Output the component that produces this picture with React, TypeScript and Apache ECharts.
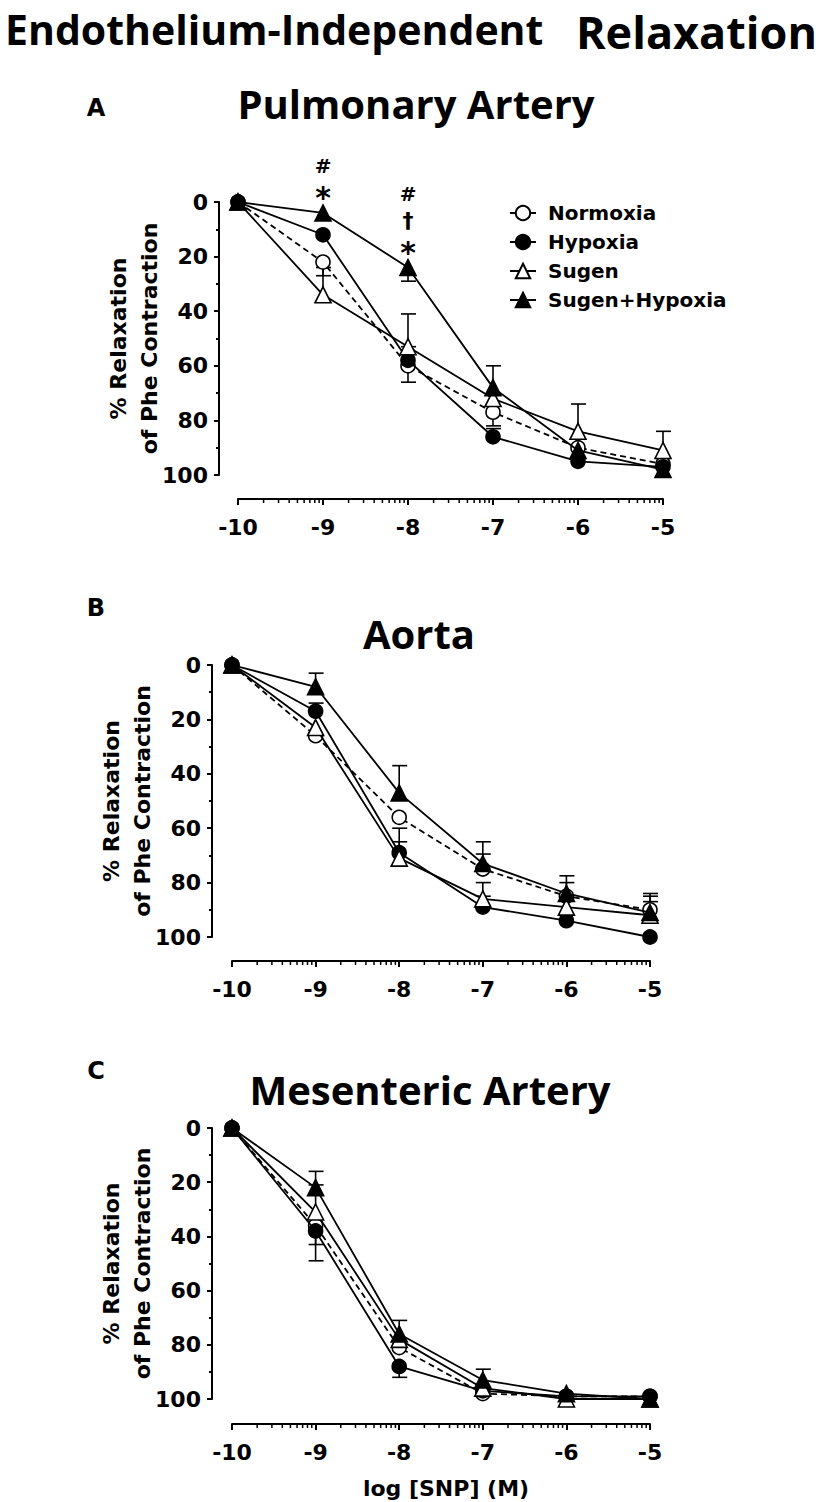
import React, { useEffect, useRef } from "react";
import * as echarts from "echarts";

// ---------- data ----------
const logSNP = [-10, -9, -8, -7, -6, -5];
const groupNames = ["Normoxia", "Hypoxia", "Sugen", "Sugen+Hypoxia"];
const yTickMin = 0;
const yTickMax = 100;
const yTickStep = 20;

// A: Pulmonary Artery (% relaxation) and one-sided SEM (+ = toward 100, - = toward 0)
const paNormoxia = [0, 22, 60, 77, 90, 96];
const paHypoxia = [0, 12, 58, 86, 95, 97];
const paSugen = [0, 34, 53, 72, 84, 91];
const paSugenHypoxia = [0, 4, 24, 68, 91, 98];
const paNormoxiaErr = [0, 5, 6, 5, 0, 0];
const paHypoxiaErr = [0, 0, -5, -3, 0, 0];
const paSugenErr = [0, -10, -12, 0, -10, -7];
const paSugenHypoxiaErr = [0, 0, 5, -8, 0, 0];
const paSignificance = [
  { x: -9, marks: ["#", "*"] },
  { x: -8, marks: ["#", "\u2020", "*"] },
];

// B: Aorta
const aoNormoxia = [0, 26, 56, 75, 85, 90];
const aoHypoxia = [0, 17, 69, 89, 94, 100];
const aoSugen = [0, 23, 71, 86, 89, 92];
const aoSugenHypoxia = [0, 8, 47, 73, 84, 91];
const aoNormoxiaErr = [0, 0, 0, -5.5, -5, -6];
const aoHypoxiaErr = [0, -3, -9, -4, 0, 0];
const aoSugenErr = [0, 0, -6, -6, 0, -5];
const aoSugenHypoxiaErr = [0, -5, -10, -8, -6.5, -6];

// C: Mesenteric Artery
const meNormoxia = [0, 36, 81, 98, 99, 99];
const meHypoxia = [0, 38, 88, 97, 99, 99];
const meSugen = [0, 31, 78, 96, 100, 100];
const meSugenHypoxia = [0, 22, 76, 93, 98, 100];
const meNormoxiaErr = [0, 13, 0, 0, 0, 0];
const meHypoxiaErr = [0, 5, 4, 0, 0, 0];
const meSugenErr = [0, -10, 0, 0, 0, 0];
const meSugenHypoxiaErr = [0, -6, -5, -4, 0, 0];

// ---------- layout / style ----------
const AXIS_FONT = "DejaVu Sans";
const TITLE_FONT = "Open Sans";

const panels = [
  {
    letter: "A",
    title: "Pulmonary Artery",
    grid: { left: 238, top: 202, width: 425, height: 273 },
    yOffset: 19,
    xOffset: 24,
    letterPos: [96, 108],
    titlePos: [416, 103],
    namePos: [118, 149],
    values: [paNormoxia, paHypoxia, paSugen, paSugenHypoxia],
    errors: [paNormoxiaErr, paHypoxiaErr, paSugenErr, paSugenHypoxiaErr],
  },
  {
    letter: "B",
    title: "Aorta",
    grid: { left: 232, top: 665, width: 418, height: 272 },
    yOffset: 20,
    xOffset: 24,
    letterPos: [96, 608],
    titlePos: [419, 633],
    namePos: [111, 142],
    values: [aoNormoxia, aoHypoxia, aoSugen, aoSugenHypoxia],
    errors: [aoNormoxiaErr, aoHypoxiaErr, aoSugenErr, aoSugenHypoxiaErr],
  },
  {
    letter: "C",
    title: "Mesenteric Artery",
    grid: { left: 232, top: 1128, width: 418, height: 271 },
    yOffset: 20,
    xOffset: 25,
    letterPos: [96, 1071],
    titlePos: [430, 1089],
    namePos: [111, 142],
    values: [meNormoxia, meHypoxia, meSugen, meSugenHypoxia],
    errors: [meNormoxiaErr, meHypoxiaErr, meSugenErr, meSugenHypoxiaErr],
  },
];

const groupStyles = [
  { symbol: "circle", size: 14, fill: "#ffffff", dash: [6, 4] as any },
  { symbol: "circle", size: 14, fill: "#000000", dash: "solid" as any },
  { symbol: "triangle", size: 16, fill: "#ffffff", dash: "solid" as any },
  { symbol: "triangle", size: 16, fill: "#000000", dash: "solid" as any },
];

function minorLogTicks(min: number, max: number) {
  const out: number[][] = [];
  for (let d = min; d < max; d++) {
    for (let k = 2; k <= 9; k++) out.push([d + Math.log10(k), yTickMax]);
  }
  return out;
}

export default function App() {
  const ref = useRef<HTMLDivElement>(null);

  useEffect(() => {
    const chart = echarts.init(ref.current!, null, { renderer: "svg" });

    const axisText = {
      fontFamily: AXIS_FONT,
      fontWeight: "bold" as const,
      fontSize: 22,
      color: "#000",
    };

    const grids: any[] = [];
    const xAxes: any[] = [];
    const yAxes: any[] = [];
    const series: any[] = [];
    const graphics: any[] = [];

    panels.forEach((p, pi) => {
      grids.push({ ...p.grid, outerBoundsMode: "none", containLabel: false });
      xAxes.push({
        type: "value",
        gridIndex: pi,
        min: logSNP[0],
        max: logSNP[logSNP.length - 1],
        interval: 1,
        offset: p.xOffset,
        axisLine: { show: true, onZero: false, lineStyle: { color: "#000", width: 2 } },
        axisTick: { show: true, inside: false, length: 6, lineStyle: { color: "#000", width: 2 } },
        minorTick: { show: false },
        splitLine: { show: false },
        axisLabel: { ...axisText, margin: 17, showMinLabel: true, showMaxLabel: true },
      });
      yAxes.push({
        type: "value",
        gridIndex: pi,
        inverse: true,
        min: yTickMin,
        max: yTickMax,
        interval: yTickStep,
        offset: p.yOffset,
        axisLine: { show: true, onZero: false, lineStyle: { color: "#000", width: 2 } },
        axisTick: { show: true, inside: false, length: 5, lineStyle: { color: "#000", width: 2 } },
        minorTick: { show: true, splitNumber: 2, length: 3, lineStyle: { color: "#000", width: 2 } },
        splitLine: { show: false },
        minorSplitLine: { show: false },
        axisLabel: { ...axisText, margin: 11 },
      });

      // minor (log) ticks of the x axis
      series.push({
        type: "custom",
        xAxisIndex: pi,
        yAxisIndex: pi,
        silent: true,
        clip: false,
        z: 1,
        encode: { x: 0, y: 1 },
        data: minorLogTicks(logSNP[0], logSNP[logSNP.length - 1]),
        renderItem: (params: any, api: any) => {
          const c = api.coord([api.value(0), api.value(1)]);
          const y0 = c[1] + p.xOffset;
          return {
            type: "line",
            shape: { x1: c[0], y1: y0, x2: c[0], y2: y0 + 4 },
            style: { stroke: "#000", lineWidth: 1.5 },
          };
        },
      });

      groupNames.forEach((name, gi) => {
        const st = groupStyles[gi];
        const vals = p.values[gi];
        const errs = p.errors[gi];
        // error bars
        series.push({
          type: "custom",
          name: name + " SEM",
          xAxisIndex: pi,
          yAxisIndex: pi,
          silent: true,
          clip: false,
          z: 1,
          encode: { x: 0, y: 1 },
          data: logSNP
            .map((x, j) => [x, vals[j], errs[j]])
            .filter((d) => d[2] !== 0),
          renderItem: (params: any, api: any) => {
            const x = api.value(0);
            const y = api.value(1);
            const e = api.value(2);
            const a = api.coord([x, y]);
            const b = api.coord([x, y + e]);
            return {
              type: "group",
              children: [
                {
                  type: "line",
                  shape: { x1: a[0], y1: a[1], x2: b[0], y2: b[1] },
                  style: { stroke: "#000", lineWidth: 1.6 },
                },
                {
                  type: "line",
                  shape: { x1: b[0] - 7, y1: b[1], x2: b[0] + 8, y2: b[1] },
                  style: { stroke: "#000", lineWidth: 1.6 },
                },
              ],
            };
          },
        });
        series.push({
          type: "line",
          name,
          xAxisIndex: pi,
          yAxisIndex: pi,
          data: logSNP.map((x, j) => [x, vals[j]]),
          symbol: st.symbol,
          symbolSize: st.size,
          showAllSymbol: true,
          clip: false,
          z: 2 + gi,
          itemStyle: { color: st.fill, borderColor: "#000", borderWidth: 1.6, opacity: 1 },
          lineStyle: { color: "#000", width: 1.8, type: st.dash },
          emphasis: { disabled: true },
        });
      });

      graphics.push(
        {
          type: "text",
          x: p.letterPos[0],
          y: p.letterPos[1],
          style: {
            text: p.letter,
            fontFamily: AXIS_FONT,
            fontWeight: "bold",
            fontSize: 24,
            fill: "#000",
            align: "center",
            verticalAlign: "middle",
          },
        },
        {
          type: "text",
          x: p.titlePos[0],
          y: p.titlePos[1],
          style: {
            text: p.title,
            fontFamily: TITLE_FONT,
            fontWeight: "bold",
            fontSize: 40,
            fill: "#000",
            align: "center",
            verticalAlign: "middle",
          },
        },
        {
          type: "text",
          x: p.namePos[0],
          y: p.grid.top + p.grid.height / 2,
          rotation: Math.PI / 2,
          style: {
            text: "% Relaxation",
            fontFamily: AXIS_FONT,
            fontWeight: "bold",
            fontSize: 22,
            fill: "#000",
            align: "center",
            verticalAlign: "middle",
          },
        },
        {
          type: "text",
          x: p.namePos[1],
          y: p.grid.top + p.grid.height / 2,
          rotation: Math.PI / 2,
          style: {
            text: "of Phe Contraction",
            fontFamily: AXIS_FONT,
            fontWeight: "bold",
            fontSize: 22,
            fill: "#000",
            align: "center",
            verticalAlign: "middle",
          },
        }
      );
    });

    // main title + x-axis title
    graphics.push(
      {
        type: "text",
        x: 5,
        y: 29,
        style: {
          text: "Endothelium-Independent",
          fontFamily: TITLE_FONT,
          fontWeight: "bold",
          fontSize: 41,
          fill: "#000",
          align: "left",
          verticalAlign: "middle",
        },
      },
      {
        type: "text",
        x: 817,
        y: 31,
        style: {
          text: "Relaxation",
          fontFamily: TITLE_FONT,
          fontWeight: "bold",
          fontSize: 45,
          fill: "#000",
          align: "right",
          verticalAlign: "middle",
        },
      },
      {
        type: "text",
        x: 446,
        y: 1488,
        style: {
          text: "log [SNP] (M)",
          fontFamily: AXIS_FONT,
          fontWeight: "bold",
          fontSize: 22,
          fill: "#000",
          align: "center",
          verticalAlign: "middle",
        },
      }
    );

    const option: any = {
      animation: false,
      backgroundColor: "#ffffff",
      grid: grids,
      xAxis: xAxes,
      yAxis: yAxes,
      legend: {
        data: groupNames,
        orient: "vertical",
        left: 504,
        top: 197,
        itemWidth: 26,
        itemHeight: 18,
        itemGap: 7,
        selectedMode: false,
        textStyle: {
          fontFamily: AXIS_FONT,
          fontWeight: "bold",
          fontSize: 20,
          lineHeight: 22,
          color: "#000",
          padding: [0, 0, 0, 7],
        },
      },
      series,
    };
    chart.setOption(option);

    // significance marks above the Sugen+Hypoxia points of panel A
    paSignificance.forEach((s) => {
      const j = logSNP.indexOf(s.x);
      const pt = chart.convertToPixel({ xAxisIndex: 0, yAxisIndex: 0 }, [s.x, paSugenHypoxia[j]]) as number[];
      const n = s.marks.length;
      s.marks.forEach((m, k) => {
        const level = n - 1 - k; // 0 = nearest to the point
        const cy = pt[1] - 20 - level * 27;
        const isStar = m === "*";
        graphics.push({
          type: "text",
          x: pt[0],
          y: isStar ? cy + 5 : cy,
          style: {
            text: m,
            fontFamily: AXIS_FONT,
            fontWeight: "bold",
            fontSize: isStar ? 30 : m === "#" ? 20 : 22,
            fill: "#000",
            align: "center",
            verticalAlign: "middle",
          },
        });
      });
    });

    chart.setOption({ graphic: graphics });

    return () => chart.dispose();
  }, []);

  return (
    <div
      ref={ref}
      style={{ position: "absolute", left: 0, top: 0, width: 825, height: 1502, background: "#fff" }}
    />
  );
}
